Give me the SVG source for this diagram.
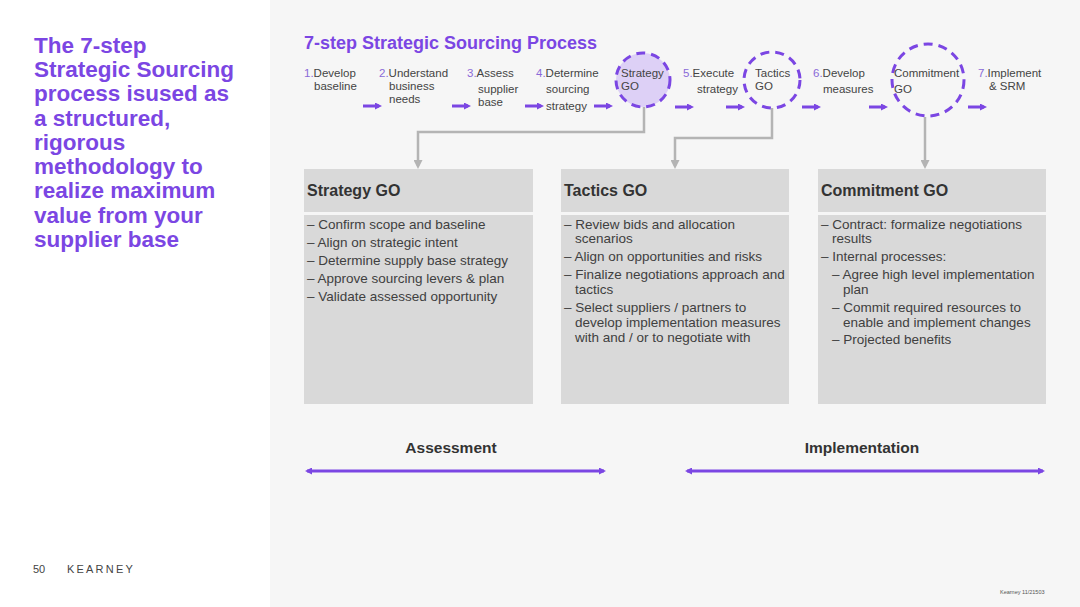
<svg xmlns="http://www.w3.org/2000/svg" width="1080" height="607" viewBox="0 0 1080 607">
<style>
text{font-family:"Liberation Sans",Arial,sans-serif;}
.lead{font-size:22.5px;font-weight:bold;fill:#7b46e3;}
.title{font-size:18px;font-weight:bold;fill:#7b46e3;}
.step{font-size:11.5px;fill:#444;}
.num{fill:#8a6ad8;}
.hdr{font-size:16px;font-weight:bold;fill:#333;}
.body{font-size:13.5px;fill:#404040;}
.phase{font-size:15.5px;font-weight:bold;fill:#333;}
.go{fill:none;stroke:#7b46e3;stroke-width:3;stroke-dasharray:9 6;}
.go.filled{fill:#ddd0f6;}
.sa{stroke:#7b46e3;stroke-width:3;fill:none;}
.gc{stroke:#b4b4b4;stroke-width:2.5;fill:none;}
.box{fill:#d9d9d9;}
</style>
<defs>
<marker id="pa" markerWidth="7" markerHeight="7" refX="4" refY="3.5" orient="auto" markerUnits="userSpaceOnUse" viewBox="0 0 7 7"><path d="M0,0 L7,3.5 L0,7 z" fill="#7b46e3"/></marker>
<marker id="pd" markerWidth="7" markerHeight="7" refX="5" refY="3.5" orient="auto-start-reverse" markerUnits="userSpaceOnUse" viewBox="0 0 7 7"><path d="M0,0 L7,3.5 L0,7 z" fill="#7b46e3"/></marker>
<marker id="ga" markerWidth="9" markerHeight="9" refX="6" refY="4.5" orient="auto" markerUnits="userSpaceOnUse" viewBox="0 0 9 9"><path d="M0,0 L9,4.5 L0,9 z" fill="#b4b4b4"/></marker>
</defs>
<rect x="0" y="0" width="1080" height="607" fill="#ffffff"/>
<rect x="270" y="0" width="810" height="607" fill="#f6f6f6"/>

<g id="lead">
<text class="lead" x="34" y="53">The 7-step</text>
<text class="lead" x="34" y="77">Strategic Sourcing</text>
<text class="lead" x="34" y="101">process isused as</text>
<text class="lead" x="34" y="126">a structured,</text>
<text class="lead" x="34" y="150">rigorous</text>
<text class="lead" x="34" y="174">methodology to</text>
<text class="lead" x="34" y="198">realize maximum</text>
<text class="lead" x="34" y="223">value from your</text>
<text class="lead" x="34" y="247">supplier base</text>
</g>

<text class="title" x="304" y="49">7-step Strategic Sourcing Process</text>

<g id="step1"><text class="step" x="304" y="77"><tspan class="num">1.</tspan>Develop</text><text class="step" x="314" y="90">baseline</text></g>
<g id="step2"><text class="step" x="379" y="77"><tspan class="num">2.</tspan>Understand</text><text class="step" x="389" y="90">business</text><text class="step" x="389" y="103">needs</text></g>
<g id="step3"><text class="step" x="467" y="77"><tspan class="num">3.</tspan>Assess</text><text class="step" x="478" y="93">supplier</text><text class="step" x="478" y="106">base</text></g>
<g id="step4"><text class="step" x="536" y="77"><tspan class="num">4.</tspan>Determine</text><text class="step" x="546" y="93">sourcing</text><text class="step" x="546" y="110">strategy</text></g>
<g id="strategyGO"><circle cx="643" cy="80" r="27" class="go filled"/><text class="step" x="621" y="77">Strategy</text><text class="step" x="621" y="90">GO</text></g>
<g id="step5"><text class="step" x="683" y="77"><tspan class="num">5.</tspan>Execute</text><text class="step" x="697" y="93">strategy</text></g>
<g id="tacticsGO"><circle cx="772" cy="80" r="28" class="go"/><text class="step" x="755" y="77">Tactics</text><text class="step" x="755" y="90">GO</text></g>
<g id="step6"><text class="step" x="813" y="77"><tspan class="num">6.</tspan>Develop</text><text class="step" x="823" y="93">measures</text></g>
<g id="commitmentGO"><circle cx="928" cy="80" r="36" class="go"/><text class="step" x="894" y="77">Commitment</text><text class="step" x="894" y="93">GO</text></g>
<g id="step7"><text class="step" x="978" y="77"><tspan class="num">7.</tspan>Implement</text><text class="step" x="989" y="90">&amp; SRM</text></g>

<g id="connectors">
<line class="sa" x1="363" y1="106" x2="379" y2="106" marker-end="url(#pa)"/>
<line class="sa" x1="452" y1="106" x2="468" y2="106" marker-end="url(#pa)"/>
<line class="sa" x1="525" y1="106" x2="541" y2="106" marker-end="url(#pa)"/>
<line class="sa" x1="594" y1="106" x2="610" y2="106" marker-end="url(#pa)"/>
<line class="sa" x1="675" y1="107" x2="691" y2="107" marker-end="url(#pa)"/>
<line class="sa" x1="726" y1="107" x2="742" y2="107" marker-end="url(#pa)"/>
<line class="sa" x1="802" y1="107" x2="818" y2="107" marker-end="url(#pa)"/>
<line class="sa" x1="869" y1="107" x2="885" y2="107" marker-end="url(#pa)"/>
<line class="sa" x1="968" y1="107" x2="984" y2="107" marker-end="url(#pa)"/>
<path class="gc" d="M644,107 V132 H418 V166" marker-end="url(#ga)"/>
<path class="gc" d="M772,108 V138 H675 V166" marker-end="url(#ga)"/>
<path class="gc" d="M925,117 V166" marker-end="url(#ga)"/>
<line class="sa" x1="307" y1="471" x2="604" y2="471" marker-start="url(#pd)" marker-end="url(#pd)"/>
<line class="sa" x1="687" y1="471" x2="1043" y2="471" marker-start="url(#pd)" marker-end="url(#pd)"/>
</g>

<g id="boxStrategy">
<rect class="box" x="304" y="169" width="229" height="43"/>
<rect class="box" x="304" y="215" width="229" height="189"/>
<text class="hdr" x="307" y="196">Strategy GO</text>
<text class="body" x="307" y="229">– Confirm scope and baseline</text>
<text class="body" x="307" y="247">– Align on strategic intent</text>
<text class="body" x="307" y="265">– Determine supply base strategy</text>
<text class="body" x="307" y="283">– Approve sourcing levers &amp; plan</text>
<text class="body" x="307" y="301">– Validate assessed opportunity</text>
</g>

<g id="boxTactics">
<rect class="box" x="561" y="169" width="228" height="43"/>
<rect class="box" x="561" y="215" width="228" height="189"/>
<text class="hdr" x="564" y="196">Tactics GO</text>
<text class="body" x="564" y="229">– Review bids and allocation</text>
<text class="body" x="575" y="243">scenarios</text>
<text class="body" x="564" y="261">– Align on opportunities and risks</text>
<text class="body" x="564" y="279">– Finalize negotiations approach and</text>
<text class="body" x="575" y="294">tactics</text>
<text class="body" x="564" y="312">– Select suppliers / partners to</text>
<text class="body" x="575" y="327">develop implementation measures</text>
<text class="body" x="575" y="342">with and / or to negotiate with</text>
</g>

<g id="boxCommitment">
<rect class="box" x="818" y="169" width="228" height="43"/>
<rect class="box" x="818" y="215" width="228" height="189"/>
<text class="hdr" x="821" y="196">Commitment GO</text>
<text class="body" x="821" y="229">– Contract: formalize negotiations</text>
<text class="body" x="832" y="243">results</text>
<text class="body" x="821" y="261">– Internal processes:</text>
<text class="body" x="832" y="279">– Agree high level implementation</text>
<text class="body" x="843" y="294">plan</text>
<text class="body" x="832" y="312">– Commit required resources to</text>
<text class="body" x="843" y="327">enable and implement changes</text>
<text class="body" x="832" y="344">– Projected benefits</text>
</g>

<g id="phases">
<text class="phase" x="451" y="453" text-anchor="middle">Assessment</text>
<text class="phase" x="862" y="453" text-anchor="middle">Implementation</text>
</g>

<g id="footer">
<text x="33" y="573" style="font-size:11px;fill:#444">50</text>
<text x="67" y="573" style="font-size:11px;fill:#444;letter-spacing:2.2px">KEARNEY</text>
<text x="1000" y="594" style="font-size:5.5px;fill:#555">Kearney 11/21503</text>
</g>
</svg>
